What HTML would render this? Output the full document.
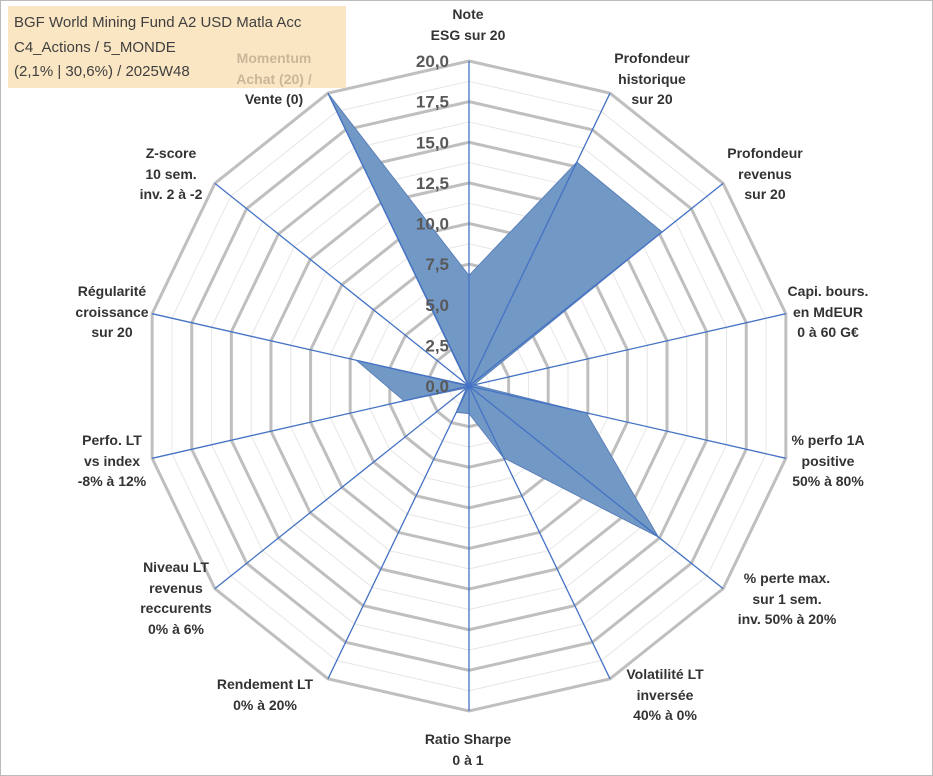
<!DOCTYPE html>
<html><head><meta charset="utf-8"><style>
html,body{margin:0;padding:0;background:#fff}
#wrap{position:relative;width:933px;height:776px;overflow:hidden;font-family:"Liberation Sans",sans-serif}
.lbl{position:absolute;font-weight:bold;font-size:14px;color:#333;text-align:center;line-height:20.5px;transform:translateX(-50%);white-space:nowrap}
#title{position:absolute;left:8px;top:6px;width:338px;height:82px;background:#fbe6c3;font-size:15px;color:#404040;line-height:24.5px;padding-left:6px;box-sizing:border-box;padding-top:5px}
</style></head><body>
<div id="wrap">
<svg id="chart" width="933" height="776" style="position:absolute;left:0;top:0">
<rect x="0.5" y="0.5" width="932" height="775" fill="#fff" stroke="#bcbcbc"/>
</svg>
<div id="title">BGF World Mining Fund A2 USD Matla Acc<br>C4_Actions / 5_MONDE<br>(2,1% | 30,6%) / 2025W48</div>
</div>
<script>
const categories=["Note|ESG sur 20","Profondeur|historique|sur 20","Profondeur|revenus|sur 20","Capi. bours.|en MdEUR|0 à 60 G€","% perfo 1A|positive|50% à 80%","% perte max.|sur 1 sem.|inv. 50% à 20%","Volatilité LT|inversée|40% à 0%","Ratio Sharpe|0 à 1","Rendement LT|0% à 20%","Niveau LT|revenus|reccurents|0% à 6%","Perfo. LT|vs index|-8% à 12%","Régularité|croissance|sur 20","Z-score|10 sem.|inv. 2 à -2","Momentum|Achat (20) /|Vente (0)"];
const values=[6.8,15.3,15.2,0.3,7.4,14.9,4.9,1.7,1.8,0.2,4.1,7.1,0.1,20];
const tickLabels=["0,0","2,5","5,0","7,5","10,0","12,5","15,0","17,5","20,0"];
const tickValues=[0,2.5,5,7.5,10,12.5,15,17.5,20];
const labelPos=[[468,4],[652,48],[765,143],[828,281],[828,430],[787,568],[665,664],[468,729],[265,674],[176,557],[112,430],[112,281],[171,143],[274,48]];

const NS="http://www.w3.org/2000/svg";
const svg=document.getElementById('chart');
const cx=469,cy=386,R=325,maxV=20,N=categories.length;
function rScale(v){return v/maxV*R;}
function pt(i,v){const a=i*2*Math.PI/N;return [cx+rScale(v)*Math.sin(a),cy-rScale(v)*Math.cos(a)];}
function mk(tag,attrs){const e=document.createElementNS(NS,tag);for(const k in attrs)e.setAttribute(k,attrs[k]);svg.appendChild(e);return e;}
// minor rings
for(let v=1.25;v<=20;v+=2.5){
 const p=mk('polygon',{points:categories.map((c,i)=>pt(i,v).join(',')).join(' '),fill:'none',stroke:'#e6e6e6','stroke-width':1});
 
 
}
tickValues.forEach(v=>{if(v===0)return;
 const p=mk('polygon',{points:categories.map((c,i)=>pt(i,v).join(',')).join(' '),fill:'none',stroke:'#bfbfbf','stroke-width':3});
 
 
});
// data polygon
const poly=mk('polygon',{points:values.map((v,i)=>pt(i,v).join(',')).join(' '),fill:'#7299c6',stroke:'#5b80b8','stroke-width':1});


// spokes
categories.forEach((c,i)=>{const [x,y]=pt(i,maxV);
 const l=mk('line',{x1:cx,y1:cy,x2:x,y2:y,stroke:'#4472c4','stroke-width':1.3});
 
 
});
// tick labels
tickValues.forEach((v,k)=>{
 const t=mk('text',{x:cx-20,y:cy-rScale(v)+6,'text-anchor':'end','font-family':'Liberation Sans, sans-serif','font-weight':'bold','font-size':'17',fill:'#595959'});
 t.textContent=tickLabels[k];
 
 
});
// category labels
const wrap=document.getElementById('wrap');
categories.forEach((c,i)=>{
 const d=document.createElement('div');
 d.className='lbl';
 d.style.left=labelPos[i][0]+'px';d.style.top=labelPos[i][1]+'px';
 d.innerHTML=c.split('|').map((s,j)=>(i===13&&j<2)?'<span style="color:#c9b79a">'+s+'</span>':s).join('<br>');
 
 
 wrap.appendChild(d);
});
</script>
</body></html>
